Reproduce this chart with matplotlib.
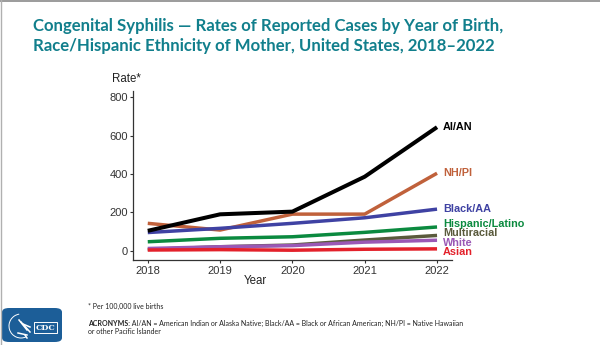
import matplotlib
matplotlib.use("Agg")
import matplotlib.pyplot as plt
from matplotlib.patches import FancyBboxPatch, Rectangle, Arc
from matplotlib.lines import Line2D

# Rates of reported congenital syphilis per 100,000 live births
years = [2018, 2019, 2020, 2021, 2022]
groups = ["NH/PI", "Black/AA", "Hispanic/Latino", "Multiracial", "White", "Asian", "AI/AN"]
rates = {
    "AI/AN":           [104, 190, 204, 386, 644],
    "NH/PI":           [143, 108, 191, 191, 404],
    "Black/AA":        [95, 117, 143, 172, 217],
    "Hispanic/Latino": [47, 65, 73, 96, 124],
    "Multiracial":     [7, 21, 30, 56, 80],
    "White":           [12, 21, 27, 45, 55],
    "Asian":           [4, 6, 3, 8, 10],
}
colors = {
    "AI/AN": "#000000",
    "NH/PI": "#c0613b",
    "Black/AA": "#3f42a3",
    "Hispanic/Latino": "#0b8a3f",
    "Multiracial": "#5a5a3c",
    "White": "#9a58b5",
    "Asian": "#e3212b",
}
# vertical placement of the end-of-line labels (data units)
label_y = {
    "AI/AN": 643, "NH/PI": 403, "Black/AA": 216, "Hispanic/Latino": 139,
    "Multiracial": 91, "White": 42, "Asian": -8,
}
yticks = [0, 200, 400, 600, 800]

title = ("Congenital Syphilis \u2014 Rates of Reported Cases by Year of Birth,\n"
         "Race/Hispanic Ethnicity of Mother, United States, 2018\u20132022")
footnote = "* Per 100,000 live births"
acronyms_lead = "ACRONYMS:"
acronyms_text = (" AI/AN = American Indian or Alaska Native; Black/AA = Black or African American; "
                 "NH/PI = Native Hawaiian")
acronyms_line2 = "or other Pacific Islander"

W, H = 600, 345
fig = plt.figure(figsize=(6, 3.45), dpi=100)
fig.patch.set_facecolor("white")

def fx(px):
    return px / W

def fy(py):
    return 1 - py / H

# slide frame
fig.add_artist(Line2D([0, 1], [fy(0.5), fy(0.5)], color="#8a8a8a", lw=1.2))
fig.add_artist(Line2D([fx(0.5), fx(0.5)], [0, 1], color="#b0b0b0", lw=1.0))

fig.text(fx(33), fy(36), title, color="#117f8c", fontsize=12.1, fontweight="bold",
         family="Lato", ha="left", va="center", linespacing=1.38)

ax = fig.add_axes([fx(133.3), fy(260), fx(451.5) - fx(133.3), fy(90.7) - fy(260)])
for g in groups:
    lw = 2.9 if g == "AI/AN" else 2.5
    ax.plot(years, rates[g], color=colors[g], lw=lw, solid_capstyle="butt", zorder=3)
    ax.text(2022.08, label_y[g], g, color=colors[g], fontsize=7.8, fontweight="bold",
            family="Liberation Sans", ha="left", va="center", clip_on=False)

ax.set_xlim(2017.8, 2022.2)
ax.set_ylim(-48, 834)
ax.set_xticks(years)
ax.set_yticks(yticks)
for s in ("top", "right"):
    ax.spines[s].set_visible(False)
for s in ("left", "bottom"):
    ax.spines[s].set_color("#333333")
    ax.spines[s].set_linewidth(0.9)
ax.tick_params(axis="both", colors="#333333", labelcolor="#333333", labelsize=8,
               length=2.5, width=0.8, pad=1.5)
for lab in ax.get_xticklabels() + ax.get_yticklabels():
    lab.set_family("Liberation Sans")

fig.text(fx(112), fy(79.5), "Rate*", fontsize=8.3, color="#222222",
         family="Liberation Sans", ha="left", va="center")
fig.text(fx(255), fy(281), "Year", fontsize=8.3, color="#222222",
         family="Liberation Sans", ha="center", va="center")

fig.text(fx(87.7), fy(306), footnote, fontsize=5.0, color="#222222", family="Lato",
         ha="left", va="center")
t = fig.text(fx(87.7), fy(323), acronyms_lead, fontsize=5.0, color="#222222",
             family="Lato", fontweight="bold", ha="left", va="center")
fig.canvas.draw()
bb = t.get_window_extent()
fig.text(bb.x1 / (W), fy(323), acronyms_text, fontsize=5.0, color="#222222",
         family="Lato", ha="left", va="center")
fig.text(fx(87.7), fy(332), acronyms_line2, fontsize=5.0, color="#222222",
         family="Lato", ha="left", va="center")

# agency logo badge
blue = "#1c5e98"
fig.add_artist(FancyBboxPatch((fx(2), fy(342)), fx(62) - fx(2), fy(308) - fy(342),
                              boxstyle="round,pad=0,rounding_size=0.012",
                              transform=fig.transFigure, facecolor=blue, edgecolor="none"))
fig.add_artist(Arc((fx(21), fy(326)), fx(24) - fx(0), fy(0) - fy(24), angle=0,
                   theta1=95, theta2=285, transform=fig.transFigure, color="white", lw=0.7))
for (x0, y0, x1, y1) in [(19, 320, 27, 330), (21, 322, 30, 332), (23, 324, 30, 327),
                         (18, 333, 27, 335), (25, 335, 27, 338)]:
    fig.add_artist(Line2D([fx(x0), fx(x1)], [fy(y0), fy(y1)], color="white", lw=1.1))
fig.add_artist(Rectangle((fx(34), fy(333)), fx(57) - fx(34), fy(322) - fy(333),
                         transform=fig.transFigure, facecolor=blue, edgecolor="white", lw=0.7))
fig.text(fx(45.5), fy(327.5), "CDC", color="white", fontsize=5.8, fontweight="bold",
         family="DejaVu Serif", ha="center", va="center")

fig.savefig("out.png", dpi=100, facecolor="white")
